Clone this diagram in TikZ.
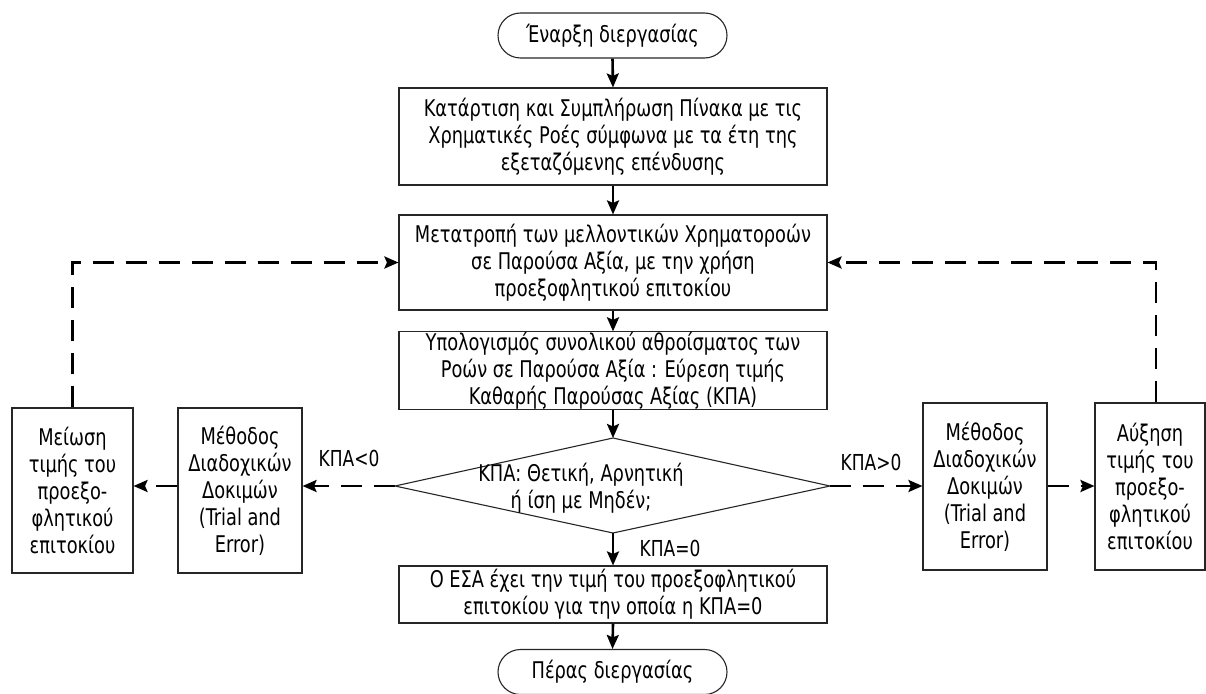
\documentclass[tikz,border=0pt]{standalone}
\usepackage{fontspec}
\setmainfont[FakeStretch=0.86]{DejaVu Sans Condensed}
\usetikzlibrary{shapes.misc,arrows.meta}
\begin{document}
\begin{tikzpicture}[x=1pt,y=-1pt,
  txt/.style={font=\fontsize{23}{27}\selectfont,align=center},
  box/.style={txt,draw=black!85,line width=1.1pt,inner sep=0pt},
  term/.style={txt,draw=black!85,line width=1.1pt,rounded rectangle,inner sep=0pt,minimum width=229pt,minimum height=45pt},
  flow/.style={line width=2.6pt,-{Stealth[length=14pt,width=12pt,inset=2.5pt]}},
  dflow/.style={flow,dash pattern=on 21pt off 12pt},
  lbl/.style={font=\fontsize{22}{25}\selectfont}
]
\useasboundingbox (0,0) rectangle (1206,693);

\node[term] (st) at (612.5,35.5) {Έναρξη διεργασίας};
\node[box,minimum width=428pt,minimum height=97pt] (b1) at (613,136.5)
  {Κατάρτιση και Συμπλήρωση Πίνακα με τις\\Χρηματικές Ροές σύμφωνα με τα έτη της\\εξεταζόμενης επένδυσης};
\node[box,minimum width=428pt,minimum height=95pt] (b2) at (613,262.5)
  {Μετατροπή των μελλοντικών Χρηματοροών\\σε Παρούσα Αξία, με την χρήση\\προεξοφλητικού επιτοκίου};
\node[box,minimum width=428pt,minimum height=75pt] (b3) at (613,370.5)
  {Υπολογισμός συνολικού αθροίσματος των\\Ροών σε Παρούσα Αξία : Εύρεση τιμής\\Καθαρής Παρούσας Αξίας (ΚΠΑ)};

\coordinate (dt) at (613,438);
\coordinate (db) at (613,533);
\coordinate (dl) at (395,486);
\coordinate (dr) at (830,486);
\draw[black!85,line width=1.1pt] (dt) -- (dr) -- (db) -- (dl) -- cycle;
\node[txt] (dia) at (581,488) {ΚΠΑ: Θετική, Αρνητική\\ή ίση με Μηδέν;};

\node[box,minimum width=428pt,minimum height=57pt] (b4) at (613,594.5)
  {Ο ΕΣΑ έχει την τιμή του προεξοφλητικού\\επιτοκίου για την οποία η ΚΠΑ=0};
\node[term] (en) at (612.5,672) {Πέρας διεργασίας};

\node[box,minimum width=121pt,minimum height=165pt] (meio) at (72.5,490.5)
  {Μείωση\\τιμής του\\προεξο-\\φλητικού\\επιτοκίου};
\node[box,minimum width=124pt,minimum height=165pt] (lm) at (240,490.5)
  {Μέθοδος\\Διαδοχικών\\Δοκιμών\\(Trial and\\Error)};
\node[box,minimum width=124pt,minimum height=167pt] (rm) at (985,486.5)
  {Μέθοδος\\Διαδοχικών\\Δοκιμών\\(Trial and\\Error)};
\node[box,minimum width=110pt,minimum height=167pt] (aux) at (1150,486.5)
  {Αύξηση\\τιμής του\\προεξο-\\φλητικού\\επιτοκίου};

\node[lbl] (lless) at (349,458) {ΚΠΑ<0};
\node[lbl] (lmore) at (871,462) {ΚΠΑ>0};
\node[lbl] (leq) at (670,548) {ΚΠΑ=0};

\draw[flow] (st.south) -- (b1.north);
\draw[flow] (b1.south) -- (b2.north);
\draw[flow] (b2.south) -- (b3.north);
\draw[flow] (b3.south) -- (dt);
\draw[flow] (db) -- (b4.north);
\draw[flow] (b4.south) -- (en.north);

\draw[dflow] (dl) -- (dl -| lm.east);
\draw[dflow] (lm.west |- dl) -- (meio.east |- dl);
\draw[dflow] (dr) -- (dr -| rm.west);
\draw[dflow] (rm.east |- dr) -- (aux.west |- dr);
\draw[dflow] (meio.north) |- (b2.west);
\draw[dflow] ([xshift=6pt]aux.north) |- (b2.east);
\end{tikzpicture}
\end{document}
